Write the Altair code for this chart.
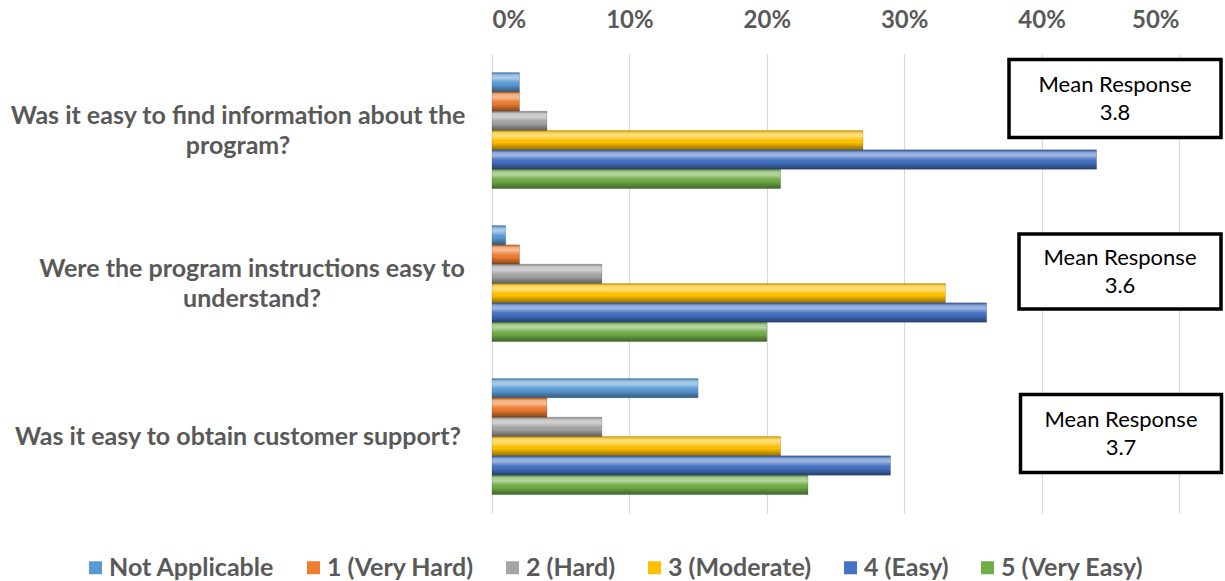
import altair as alt
import pandas as pd

# Survey questions (line breaks mark where the label wraps)
questions = [
    "Was it easy to find information about the\nprogram?",
    "Were the program instructions easy to\nunderstand?",
    "Was it easy to obtain customer support?",
]

# Response categories and their colours
series = ["Not Applicable", "1 (Very Hard)", "2 (Hard)", "3 (Moderate)", "4 (Easy)", "5 (Very Easy)"]
colors = ["#5B9BD5", "#ED7D31", "#A5A5A5", "#FFC000", "#4472C4", "#70AD47"]

# Share of responses (%) per question, one list per category
not_applicable = [2, 1, 15]
very_hard = [2, 2, 4]
hard = [4, 8, 8]
moderate = [27, 33, 21]
easy = [44, 36, 29]
very_easy = [21, 20, 23]

# Mean response per question
means = [3.8, 3.6, 3.7]

# Layout of the label blocks and the mean-response boxes (pixels, plot coordinates)
LABEL_CENTER_X = [-254, -240, -254]
LABEL_LINE_H = 30
BOX_CENTER_X = [623, 628, 629]
BOX_DY = [-32, -12, -3]
BOX_W = [212, 202, 201]
BOX_H = [78, 75, 78]
BOX_LINE_H = 28

FONT = "Lato"
GRAY = "#595959"

rows = []
for s, vals in zip(series, [not_applicable, very_hard, hard, moderate, easy, very_easy]):
    for q, v in zip(questions, vals):
        rows.append({"question": q, "series": s, "value": v})
df = pd.DataFrame(rows)

qdf = pd.DataFrame({"question": questions, "mean": means})

y_enc = alt.Y(
    "question:N",
    sort=questions,
    scale=alt.Scale(domain=questions, paddingInner=0.242, paddingOuter=0.121),
    axis=None,
)
y_off = alt.YOffset("series:N", sort=series, scale=alt.Scale(domain=series, paddingInner=0, paddingOuter=0))
x_enc = alt.X(
    "value:Q",
    scale=alt.Scale(domain=[0, 50], nice=False),
    axis=alt.Axis(
        orient="top",
        values=[0, 10, 20, 30, 40, 50],
        labelExpr="datum.value + '%'",
        title=None,
        domain=False,
        ticks=False,
        grid=True,
        gridColor="#D9D9D9",
        gridWidth=1.2,
        labelFont=FONT,
        labelFontSize=24,
        labelFontWeight="bold",
        labelColor=GRAY,
        labelBaseline="alphabetic",
        labelPadding=27,
    ),
)

bars = alt.Chart(df).mark_bar().encode(
    x=x_enc,
    y=y_enc,
    yOffset=y_off,
    color=alt.Color(
        "series:N",
        sort=series,
        scale=alt.Scale(domain=series, range=colors),
        legend=alt.Legend(
            title=None,
            orient="none",
            legendX=-409,
            legendY=501,
            direction="horizontal",
            columns=6,
            symbolType="square",
            symbolSize=169,
            symbolStrokeWidth=0,
            labelFont=FONT,
            labelFontSize=25,
            labelFontWeight="bold",
            labelColor=GRAY,
            labelOffset=1,
            columnPadding=26,
            labelLimit=400,
        ),
    ),
)

# Bevelled shading laid over each bar
shade = alt.Chart(df).mark_bar(
    color=alt.Gradient(
        gradient="linear",
        x1=0, x2=0, y1=0, y2=1,
        stops=[
            alt.GradientStop(color="rgba(0,0,0,0.10)", offset=0),
            alt.GradientStop(color="rgba(255,255,255,0.35)", offset=0.12),
            alt.GradientStop(color="rgba(255,255,255,0.50)", offset=0.28),
            alt.GradientStop(color="rgba(255,255,255,0.10)", offset=0.48),
            alt.GradientStop(color="rgba(0,0,0,0.0)", offset=0.62),
            alt.GradientStop(color="rgba(0,0,0,0.28)", offset=0.86),
            alt.GradientStop(color="rgba(0,0,0,0.40)", offset=1),
        ],
    ),
    stroke="rgba(0,0,0,0.25)",
    strokeWidth=0.6,
).encode(x="value:Q", y=y_enc, yOffset=y_off)

layers = [bars, shade]

for i, q in enumerate(questions):
    one = alt.Chart(qdf).transform_filter(alt.datum.question == q)
    n_lines = q.count("\n") + 1

    # Question label, lines centred on each other, block centred on the band
    layers.append(
        one.mark_text(
            font=FONT, fontSize=25, fontWeight="bold", color=GRAY,
            align="center", baseline="middle", lineBreak="\n", lineHeight=LABEL_LINE_H,
            yOffset=-(n_lines - 1) * LABEL_LINE_H / 2,
        ).encode(x=alt.value(LABEL_CENTER_X[i]), y=y_enc, text="question:N")
    )

    # Mean response box
    hw = 1.0
    hh = BOX_H[i] / BOX_W[i]
    path = f"M{-hw},{-hh}L{hw},{-hh}L{hw},{hh}L{-hw},{hh}Z"
    layers.append(
        one.mark_point(
            shape=path, size=BOX_W[i] ** 2, filled=True, fill="white", fillOpacity=1,
            stroke="black", strokeWidth=3.5, opacity=1, yOffset=BOX_DY[i],
        ).encode(x=alt.value(BOX_CENTER_X[i]), y=y_enc)
    )
    layers.append(
        one.transform_calculate(label="'Mean Response\\n' + format(datum.mean, '.1f')")
        .mark_text(
            font=FONT, fontSize=22, color="black", align="center", baseline="middle",
            lineBreak="\n", lineHeight=BOX_LINE_H, yOffset=BOX_DY[i] - BOX_LINE_H / 2,
        )
        .encode(x=alt.value(BOX_CENTER_X[i]), y=y_enc, text="label:N")
    )

chart = (
    alt.layer(*layers)
    .properties(
        width=687,
        height=459,
        autosize=alt.AutoSizeParams(type="none"),
        padding={"left": 492, "top": 54, "right": 46, "bottom": 68},
        background="white",
    )
    .configure_view(stroke=None)
)

chart.save("out.html", embed_options={"renderer": "svg", "actions": False})
